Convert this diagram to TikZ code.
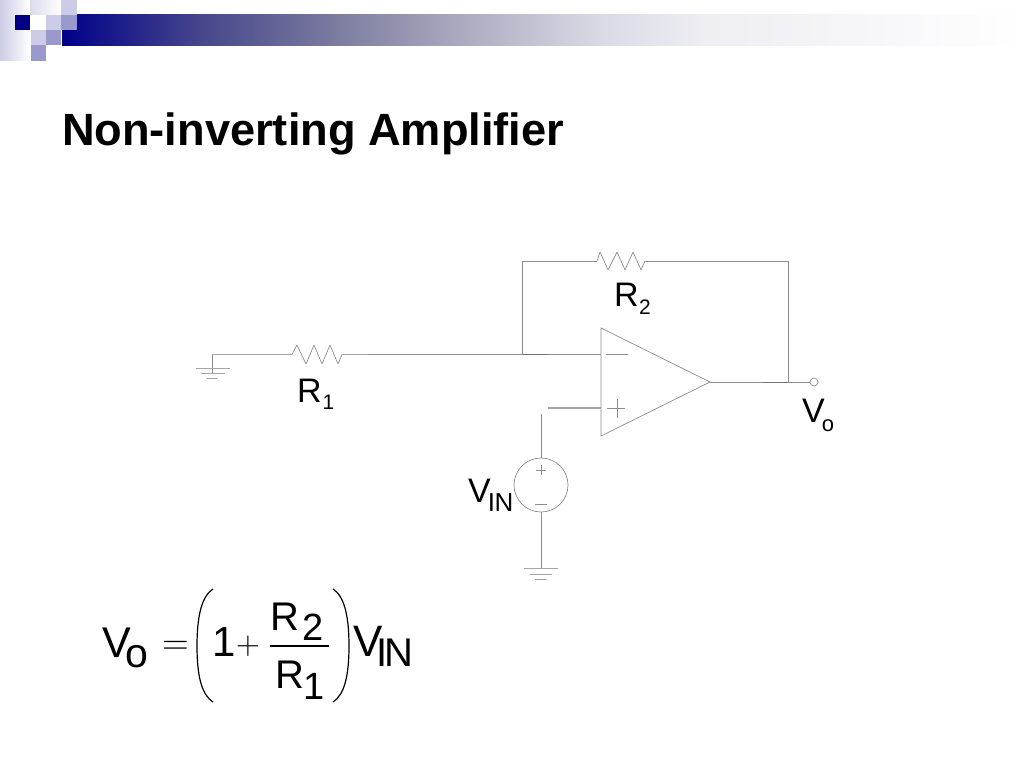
\documentclass[tikz,border=0pt]{standalone}
\usepackage{fontspec}
\setmainfont{Liberation Sans}
\newfontfamily\mathsym{Latin Modern Roman}
\definecolor{sqdark}{RGB}{0,0,128}
\definecolor{sqmid}{RGB}{153,153,204}
\definecolor{sqlight}{RGB}{204,204,230}
\definecolor{wire}{RGB}{140,140,140}
\definecolor{softwire}{RGB}{165,165,165}
\definecolor{darkwire}{RGB}{115,115,115}
\newcommand{\fs}[1]{\fontsize{#1}{#1}\selectfont}
\newcommand{\subtext}[3]{\raisebox{-#1pt}{\fs{#2}#3}}
\pgfdeclarehorizontalshading{barfade}{100bp}{
  color(0bp)=(sqdark!92!blue);
  color(25bp)=(sqdark!92!blue);
  color(32.2bp)=(rgb,255:red,70;green,70;blue,140);
  color(39.4bp)=(rgb,255:red,125;green,125;blue,160);
  color(46.4bp)=(rgb,255:red,175;green,175;blue,195);
  color(53bp)=(rgb,255:red,218;green,218;blue,230);
  color(58.5bp)=(rgb,255:red,238;green,238;blue,243);
  color(75bp)=(white);
  color(100bp)=(white)}
\tikzset{
  x=1pt,y=-1pt,
  wireline/.style={draw=wire,line width=0.7pt},
  softline/.style={draw=softwire,line width=1.3pt},
  darkline/.style={draw=darkwire,line width=0.9pt},
  txt/.style={anchor=base west,inner sep=0pt,outer sep=0pt,text=black},
  lab/.style={txt,font=\fs{34}},
  labsub/.style={txt,font=\fs{21}},
  eq/.style={txt,font=\fs{43}},
  eqfrac/.style={txt,font=\fs{40}},
  eqdigit/.style={txt,font=\fs{38}},
  eqsym/.style={txt,font=\mathsym\fs{36}},
  paren/.style={draw=black,line width=1.2pt}
}
\begin{document}
\begin{tikzpicture}
\useasboundingbox (0,0) rectangle (1024,768);
\fill[white] (0,0) rectangle (1024,768);
% header
\shade[shading=barfade,draw=none] (62,15) rectangle (1024,45.5);
\shade[left color=sqlight,right color=white,draw=none] (0,0) rectangle (30,60);
\shade[left color=sqlight!70,right color=white,draw=none] (30,0) rectangle (62,15);
\fill[white] (30,15) rectangle (46,30);
\fill[sqdark] (15,15) rectangle (30,30);
\fill[sqlight] (61,0) rectangle (77,15);
\fill[sqlight] (46,15) rectangle (61,30);
\fill[sqmid] (61,15) rectangle (77,30);
\fill[sqlight] (31,30) rectangle (46,45.5);
\fill[sqmid] (46,30) rectangle (61,45.5);
\fill[sqmid] (31,45.5) rectangle (46,61);
% title
\node[txt,font=\fs{45.2}\bfseries] (title) at (62,145) {Non-inverting Amplifier};
% coordinates
\coordinate (gndA) at (212,354.5);
\coordinate (r1a) at (292,354.5);
\coordinate (r1b) at (342,354.5);
\coordinate (r1c) at (368,354.5);
\coordinate (jn) at (522,354.5);
\coordinate (jnb) at (548,354.5);
\coordinate (inv) at (601,354.5);
\coordinate (noninv) at (601,408);
\coordinate (noninvb) at (548,408);
\coordinate (tl) at (601,328);
\coordinate (bl) at (601,436);
\coordinate (tip) at (710,382);
\coordinate (fbtop) at (788,261);
\coordinate (fbbot) at (788,382);
\coordinate (fbout) at (763,382);
\coordinate (jntop) at (522,261);
\coordinate (r2a) at (597,261);
\coordinate (r2b) at (645,261);
\coordinate (vintop) at (541,414);
\coordinate (g1) at (212,374);
\coordinate (g2) at (541,568);
\node[circle,draw=wire,line width=0.7pt,minimum size=8pt,inner sep=0pt] (vout) at (814,382) {};
\node[circle,draw=wire,line width=0.7pt,minimum size=54pt,inner sep=0pt] (src) at (541,485) {};
% ground left
\draw[softline] (gndA) -- (r1a);
\draw[wireline] (g1) -- (gndA);
\draw[softline,line width=1pt] (196,368) -- (230,368) (201,373) -- (225,373) (207,378) -- (217,378);
% R1
\draw[wireline,line join=bevel] (r1a) -- (297,345) -- (306,364) -- (314,345) -- (322,364) -- (330,345) -- (338,364) -- (r1b);
\draw[softline] (r1b) -- (r1c);
\draw[wireline] (r1c) -- (jn);
\draw[darkline] (jn) -- (jnb);
\draw[wireline] (jnb) -- (inv);
% feedback
\draw[wireline] (jn) -- (jntop) -- (r2a);
\draw[wireline,line join=bevel] (r2a) -- (600,252) -- (608,270) -- (617,252) -- (625,270) -- (633,252) -- (641,270) -- (r2b);
\draw[wireline] (r2b) -- (fbtop) -- (fbbot);
% op amp
\draw[wireline,line join=miter] (tl) -- (tip) -- (bl) -- cycle;
\draw[wireline] (606,354.5) -- (628,354.5);
\draw[wireline] (607,408) -- (625,408) (617,399) -- (617,418);
% output
\draw[wireline] (tip) -- (fbout);
\draw[darkline] (fbout) -- (fbbot);
\draw[wireline] (fbbot) -- (vout);
% noninv input
\draw[softline] (noninvb) -- (noninv);
\draw[wireline] (vintop) -- (src.north);
\draw[wireline] (536,470) -- (546,470) (541,465) -- (541,475);
\draw[wireline] (535,504.5) -- (547,504.5);
\draw[wireline] (src.south) -- (g2);
\draw[softline,line width=1pt] (524,568) -- (558,568) (530,574) -- (552,574) (535,579) -- (547,579);
% labels
\node[lab] (lr2) at (614,306) {R};
\node[labsub] (lr2s) at (639,314) {2};
\node[lab] (lr1) at (297,402) {R};
\node[labsub] (lr1s) at (322.5,409) {1};
\node[lab] (lvo) at (802,422) {V\kern-2.7pt\subtext{9}{22}{o}};
\node[lab] (lvin) at (468,502) {V\kern-2.7pt\subtext{9}{26}{I\kern-0.02em N}};
% formula
\node[eq] (fv) at (102,657) {V\kern-4.7pt\subtext{10.5}{41}{o}};
\node[eqsym,font=\mathsym\fs{37}] (feq) at (162,654.5) {=};
\node[eq,font=\fs{42}] (fone) at (212,656) {1};
\node[eqsym,font=\mathsym\fs{33}] (fplus) at (236,654.5) {+};
\node[eqfrac] (fr2) at (270,630) {R};
\node[eqdigit] (fr2s) at (302,640) {2};
\node[eqfrac] (fr1) at (275,688) {R};
\node[eqdigit] (fr1s) at (303,699) {1};
\draw[draw=black,line width=1.1pt] (270,646) -- (329,646);
\draw[paren] (213,589) .. controls (202,596) and (197,615) .. (197,646) .. controls (197,677) and (202,695) .. (213,702);
\draw[paren] (333,589) .. controls (344,596) and (349,615) .. (349,646) .. controls (349,677) and (344,695) .. (333,702);
\node[eq,font=\fs{44}] (fv2) at (353,656) {V\kern-6pt\subtext{10}{40}{I\kern-0.08em N}};
\end{tikzpicture}
\end{document}
